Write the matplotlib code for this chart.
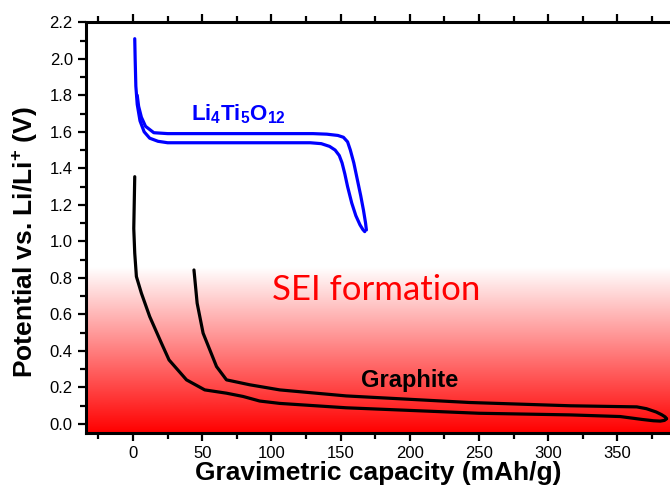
import numpy as np
import matplotlib
matplotlib.use("Agg")
import matplotlib.pyplot as plt
from matplotlib.colors import LinearSegmentedColormap
from matplotlib.ticker import MultipleLocator

plt.rcParams['font.family'] = ['Liberation Sans', 'DejaVu Sans']
plt.rcParams['mathtext.fontset'] = 'custom'
plt.rcParams['mathtext.rm'] = 'Liberation Sans:bold'
plt.rcParams['mathtext.it'] = 'Liberation Sans:bold'
plt.rcParams['mathtext.bf'] = 'Liberation Sans:bold'
plt.rcParams['mathtext.default'] = 'rm'

# Li4Ti5O12: descarga (meseta baja) y carga (meseta alta)
lto_dis_x = [1.2, 1.5, 2, 3, 5, 8, 12, 18, 25, 60, 100, 128, 136, 142, 146, 149, 151, 153, 155,
             158, 161, 164, 166, 167.4]
lto_dis_y = [2.11, 2.0, 1.85, 1.75, 1.66, 1.60, 1.565, 1.548, 1.54, 1.54, 1.54, 1.54, 1.535, 1.52,
             1.50, 1.47, 1.43, 1.37, 1.30, 1.21, 1.14, 1.09, 1.065, 1.053]
lto_cha_x = [168.6, 168, 166.5, 164.5, 162, 159.5, 157, 155, 152, 148, 140, 130, 100, 60, 25, 15,
             9, 6, 4, 3]
lto_cha_y = [1.062, 1.10, 1.17, 1.25, 1.34, 1.43, 1.50, 1.545, 1.57, 1.58, 1.587, 1.59, 1.59, 1.59,
             1.59, 1.595, 1.63, 1.68, 1.74, 1.80]

# Grafito: litiacion (curva baja) y delitiacion (curva alta)
gr_lit_x = [1.2, 0.5, 1.2, 2.4, 6, 12, 20.5, 26, 38.6, 51.8, 67.5, 79.5, 91.5, 106, 154, 250, 316,
            352, 368, 376, 381, 384, 385.5]
gr_lit_y = [1.354, 1.07, 0.935, 0.807, 0.716, 0.588, 0.442, 0.35, 0.241, 0.186, 0.168, 0.15, 0.125,
            0.112, 0.088, 0.058, 0.049, 0.04, 0.024, 0.017, 0.015, 0.019, 0.028]
gr_del_x = [385.5, 384.5, 382, 378, 371, 364, 316, 243, 154, 106, 84.3, 67.5, 60.3, 50.6, 46.3, 44]
gr_del_y = [0.028, 0.038, 0.05, 0.065, 0.083, 0.093, 0.099, 0.117, 0.153, 0.186, 0.214, 0.241,
            0.314, 0.497, 0.661, 0.843]

xmin, xmax = -34, 388
ymin, ymax = -0.05, 2.2
sei_top = 0.854

fig = plt.figure(figsize=(6.7, 4.95), dpi=100)
ax = fig.add_axes([0.1284, 0.1253, 1.0 - 0.1284, 0.955 - 0.1253])

# degradado rojo de la zona SEI
cmap = LinearSegmentedColormap.from_list('sei', ['#ff0000', '#ffffff'])
grad = np.linspace(0, 1, 256).reshape(-1, 1)
ax.imshow(grad, cmap=cmap, aspect='auto', origin='lower',
          extent=[xmin, xmax, ymin, sei_top], zorder=0)

kw = dict(lw=2.3, solid_capstyle='round', solid_joinstyle='round')
ax.plot(lto_dis_x, lto_dis_y, color='#0000ff', **kw)
ax.plot(lto_cha_x, lto_cha_y, color='#0000ff', **kw)
ax.plot(gr_lit_x, gr_lit_y, color='black', **kw)
ax.plot(gr_del_x, gr_del_y, color='black', **kw)

ax.text(41.5, 1.665, r'Li$_4$Ti$_5$O$_{12}$', color='#0000ff', fontsize=16,
        fontweight='bold', ha='left', va='baseline')
ax.text(200, 0.235, 'Graphite', color='black', fontsize=17, fontweight='bold',
        ha='center', va='center')
ax.text(176, 0.734, 'SEI formation', color='#ff0000', fontsize=25,
        family=['Lato', 'DejaVu Sans'], ha='center', va='center')

ax.set_xlim(xmin, xmax)
ax.set_ylim(ymin, ymax)
ax.xaxis.set_major_locator(MultipleLocator(50))
ax.xaxis.set_minor_locator(MultipleLocator(25))
ax.yaxis.set_major_locator(MultipleLocator(0.2))
ax.yaxis.set_minor_locator(MultipleLocator(0.1))
ax.yaxis.set_major_formatter(plt.FormatStrFormatter('%.1f'))

ax.spines['right'].set_visible(False)
for s in ['left', 'bottom', 'top']:
    ax.spines[s].set_linewidth(2.2)
ax.tick_params(which='both', direction='out', top=True, right=False, width=1.6, labelsize=12)
ax.tick_params(which='major', length=6)
ax.tick_params(which='minor', length=4)

ax.set_xlabel('Gravimetric capacity (mAh/g)', fontsize=19, fontweight='bold', labelpad=0)
ax.set_ylabel(r'Potential vs. Li/Li$^{+}$ (V)', fontsize=19, fontweight='bold')
ax.yaxis.set_label_coords(-0.078, 0.466)

fig.savefig('out.png', dpi=100)
